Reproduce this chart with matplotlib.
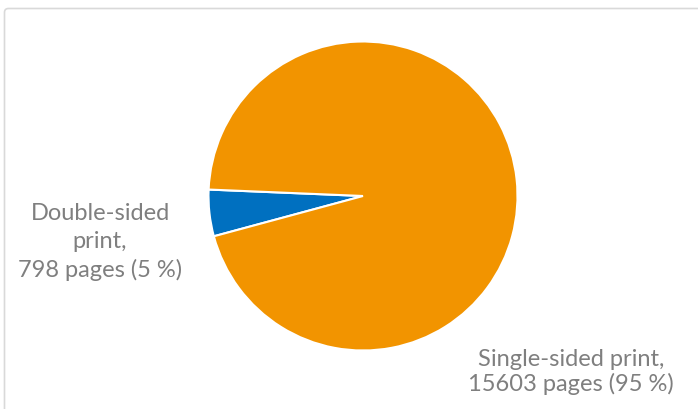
import matplotlib.pyplot as plt
from matplotlib.patches import FancyBboxPatch

labels = ['Double-sided\nprint,\n798 pages (5 %)', 'Single-sided print,\n15603 pages (95 %)']
pages = [798, 15603]
colors = ['#0070c0', '#f29400']

W, H = 698, 410
fig = plt.figure(figsize=(W / 100, H / 100), dpi=100)
ax = fig.add_axes([0, 0, 1, 1])
ax.set_xlim(0, W)
ax.set_ylim(0, H)
ax.set_aspect('equal')
ax.axis('off')

# рамка графіка
frame = FancyBboxPatch((4.5, -20), W + 20, H - 5 + 20 - 4.5,
                       boxstyle='round,pad=0,rounding_size=4',
                       fc='white', ec='#d9d9d9', lw=1.2)
ax.add_patch(frame)

ax.pie(pages, colors=colors, center=(363, H - 197), radius=154.5,
       startangle=177.6, counterclock=True,
       wedgeprops=dict(edgecolor='white', linewidth=1.5), frame=True)
ax.set_xlim(0, W)
ax.set_ylim(0, H)
ax.axis('off')

font = dict(family=['Lato', 'DejaVu Sans'], fontweight='normal', color='#7f7f7f', fontsize=17)
ax.text(100, H - 242, labels[0], ha='center', va='center', linespacing=1.38, **font)
ax.text(571, H - 372, labels[1], ha='center', va='center', linespacing=1.15, **font)

fig.savefig('out.png', dpi=100)
